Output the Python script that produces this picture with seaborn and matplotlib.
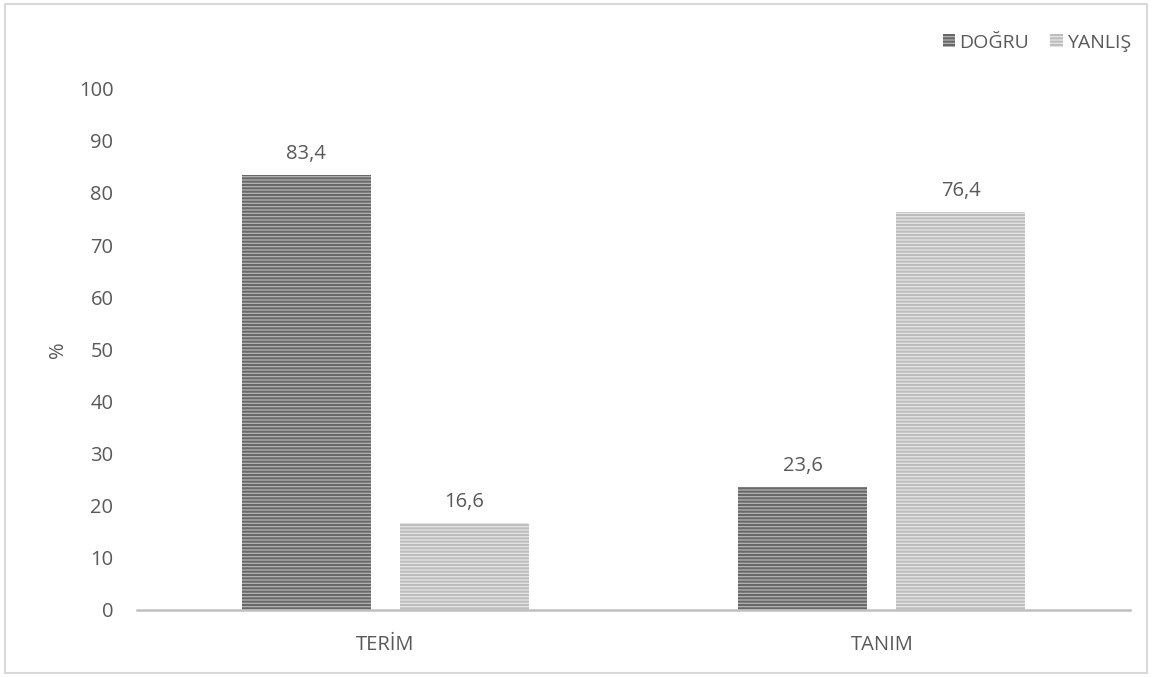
import matplotlib
matplotlib.use("Agg")
import matplotlib.pyplot as plt
import seaborn as sns
import pandas as pd
from matplotlib.patches import Rectangle

categories = ['TERİM', 'TANIM']
series = ['DOĞRU', 'YANLIŞ']
dogru = [83.4, 23.6]
yanlis = [16.6, 76.4]
yticks = [0, 10, 20, 30, 40, 50, 60, 70, 80, 90, 100]

df = pd.DataFrame({
    'kategori': categories * 2,
    'seri': [series[0]] * 2 + [series[1]] * 2,
    'deger': dogru + yanlis,
})

sns.set_style('white')
plt.rcParams['font.family'] = ['Open Sans', 'DejaVu Sans']
plt.rcParams['hatch.linewidth'] = 1.5
text_color = '#595959'

fig = plt.figure(figsize=(11.52, 6.77), dpi=100)
ax = fig.add_axes([0.119, 0.099, 0.862, 0.770])

face = {'DOĞRU': '#b4b4b4', 'YANLIŞ': '#e6e6e6'}
stripe = {'DOĞRU': '#686868', 'YANLIŞ': '#bdbdbd'}

sns.barplot(data=df, x='kategori', y='deger', hue='seri', order=categories,
            hue_order=series, palette=face, width=0.636, gap=0.184,
            legend=False, ax=ax)

for container, s in zip(ax.containers, series):
    for bar in container:
        bar.set_hatch('-----')
        bar.set_edgecolor(stripe[s])
        bar.set_linewidth(0)
    ax.bar_label(container, labels=[f'{v:.1f}'.replace('.', ',') for v in container.datavalues],
                 padding=8, fontsize=14.5, color=text_color)

ax.set_ylim(0, 100)
ax.set_yticks(yticks)
ax.set_xlabel('')
ax.set_ylabel('%', fontsize=14.5, color=text_color, labelpad=8)
ax.tick_params(axis='both', colors=text_color, labelsize=14.5, length=0)
ax.tick_params(axis='y', pad=17)
ax.tick_params(axis='x', pad=18)
for side in ['top', 'right', 'left']:
    ax.spines[side].set_visible(False)
ax.spines['bottom'].set_color('#bfbfbf')
ax.spines['bottom'].set_linewidth(1.8)

handles = [Rectangle((0, 0), 1, 1, facecolor=face[s], edgecolor=stripe[s],
                     hatch='-----', linewidth=0) for s in series]
fig.legend(handles, series, loc='upper right', bbox_to_anchor=(0.997, 0.976),
           ncol=2, frameon=False, fontsize=14, labelcolor=text_color,
           handlelength=0.65, handleheight=0.65, handletextpad=0.2, columnspacing=1.1)

fig.patches.append(Rectangle((0.004, 0.006), 0.992, 0.988, transform=fig.transFigure,
                             fill=False, edgecolor='#d9d9d9', linewidth=1.5))

fig.savefig('out.png', dpi=100)
